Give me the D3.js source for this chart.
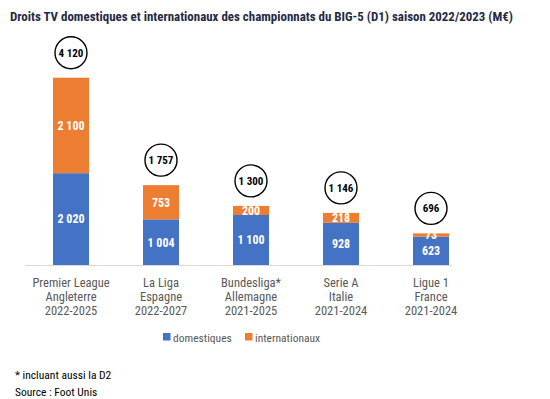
<!DOCTYPE html>
<html><head><meta charset="utf-8">
<script src="https://cdn.jsdelivr.net/npm/d3@7"></script>
<style>
body{margin:0;background:#fff;}
svg{display:block;}
</style></head>
<body>
<svg id="c" width="550" height="399"></svg>
<script>
const categories = [
  ["Premier League","Angleterre","2022-2025"],
  ["La Liga","Espagne","2022-2027"],
  ["Bundesliga*","Allemagne","2021-2025"],
  ["Serie A","Italie","2021-2024"],
  ["Ligue 1","France","2021-2024"]
];
const domestiques = [2020, 1004, 1100, 928, 623];
const internationaux = [2100, 753, 200, 218, 73];
const totals = [4120, 1757, 1300, 1146, 696];
const seriesNames = ["domestiques","internationaux"];
const colors = ["#4472C4","#ED7D31"];
const title = "Droits TV domestiques et internationaux des championnats du BIG-5 (D1) saison 2022/2023 (M€)";
const footnotes = ["* incluant aussi la D2","Source : Foot Unis"];

const fmt = v => d3.format(",")(v).replace(/,/g," ");
const svg = d3.select("#c");
const font = '"Liberation Sans Narrow","Arial Narrow","Roboto Condensed",sans-serif';

const x = d3.scaleBand().domain(d3.range(categories.length)).range([26,476]).paddingInner(0.6).paddingOuter(0.3);
const y = d3.scaleLinear().domain([0,4400]).range([265,65]);

svg.append("text").attr("x",10).attr("y",21).attr("font-family",font).attr("font-weight","bold")
  .attr("font-size",13.5).attr("fill","#1f2a44")
  .attr("textLength",503).attr("lengthAdjust","spacingAndGlyphs").text(title);

// baseline
svg.append("line").attr("x1",25).attr("x2",452).attr("y1",y(0)+0.5).attr("y2",y(0)+0.5)
  .attr("stroke","#d9d9d9").attr("stroke-width",1);

const stackData = categories.map((c,i)=>({i, domestiques:domestiques[i], internationaux:internationaux[i]}));
const stack = d3.stack().keys(seriesNames)(stackData);

stack.forEach((s,k)=>{
  const g = svg.append("g");
  g.selectAll("rect").data(s).join("rect")
    .attr("x",d=>x(d.data.i)).attr("width",x.bandwidth())
    .attr("y",d=>y(d[1])).attr("height",d=>y(d[0])-y(d[1]))
    .attr("fill",colors[k]);
  g.selectAll("text").data(s).join("text")
    .attr("x",d=>x(d.data.i)+x.bandwidth()/2)
    .attr("y",d=>(y(d[0])+y(d[1]))/2).attr("dy","0.36em")
    .attr("text-anchor","middle").attr("font-family",font).attr("font-weight","bold")
    .attr("font-size",12).attr("fill","#fff")
    .text(d=>fmt(d[1]-d[0]));
});

// total circles
const tg = svg.append("g");
totals.forEach((t,i)=>{
  const cx = x(i)+x.bandwidth()/2, cy = y(t)-25;
  tg.append("circle").attr("cx",cx).attr("cy",cy).attr("r",16)
    .attr("fill","#fff").attr("stroke","#000").attr("stroke-width",1.4);
  tg.append("text").attr("x",cx).attr("y",cy).attr("dy","0.36em").attr("text-anchor","middle")
    .attr("font-family",font).attr("font-weight","bold").attr("font-size",11).attr("fill","#000").text(fmt(t));
});

// category labels
categories.forEach((c,i)=>{
  const t = svg.append("text").attr("text-anchor","middle").attr("font-family",font)
    .attr("font-size",12.5).attr("fill","#595959");
  c.forEach((line,j)=>{
    t.append("tspan").attr("x",x(i)+x.bandwidth()/2).attr("y",287+j*13.8).text(line);
  });
});

// legend
const lg = svg.append("g");
const lx = [163,245];
seriesNames.forEach((n,k)=>{
  lg.append("rect").attr("x",lx[k]).attr("y",333).attr("width",7.5).attr("height",7.5).attr("fill",colors[k]);
  lg.append("text").attr("x",lx[k]+10).attr("y",341.5).attr("font-family",font).attr("font-size",11.5)
    .attr("fill","#595959").text(n);
});

footnotes.forEach((f,j)=>{
  svg.append("text").attr("x",15).attr("y",379+j*17).attr("font-family",font).attr("font-size",11.5)
    .attr("fill","#000").text(f);
});
</script>
</body></html>
